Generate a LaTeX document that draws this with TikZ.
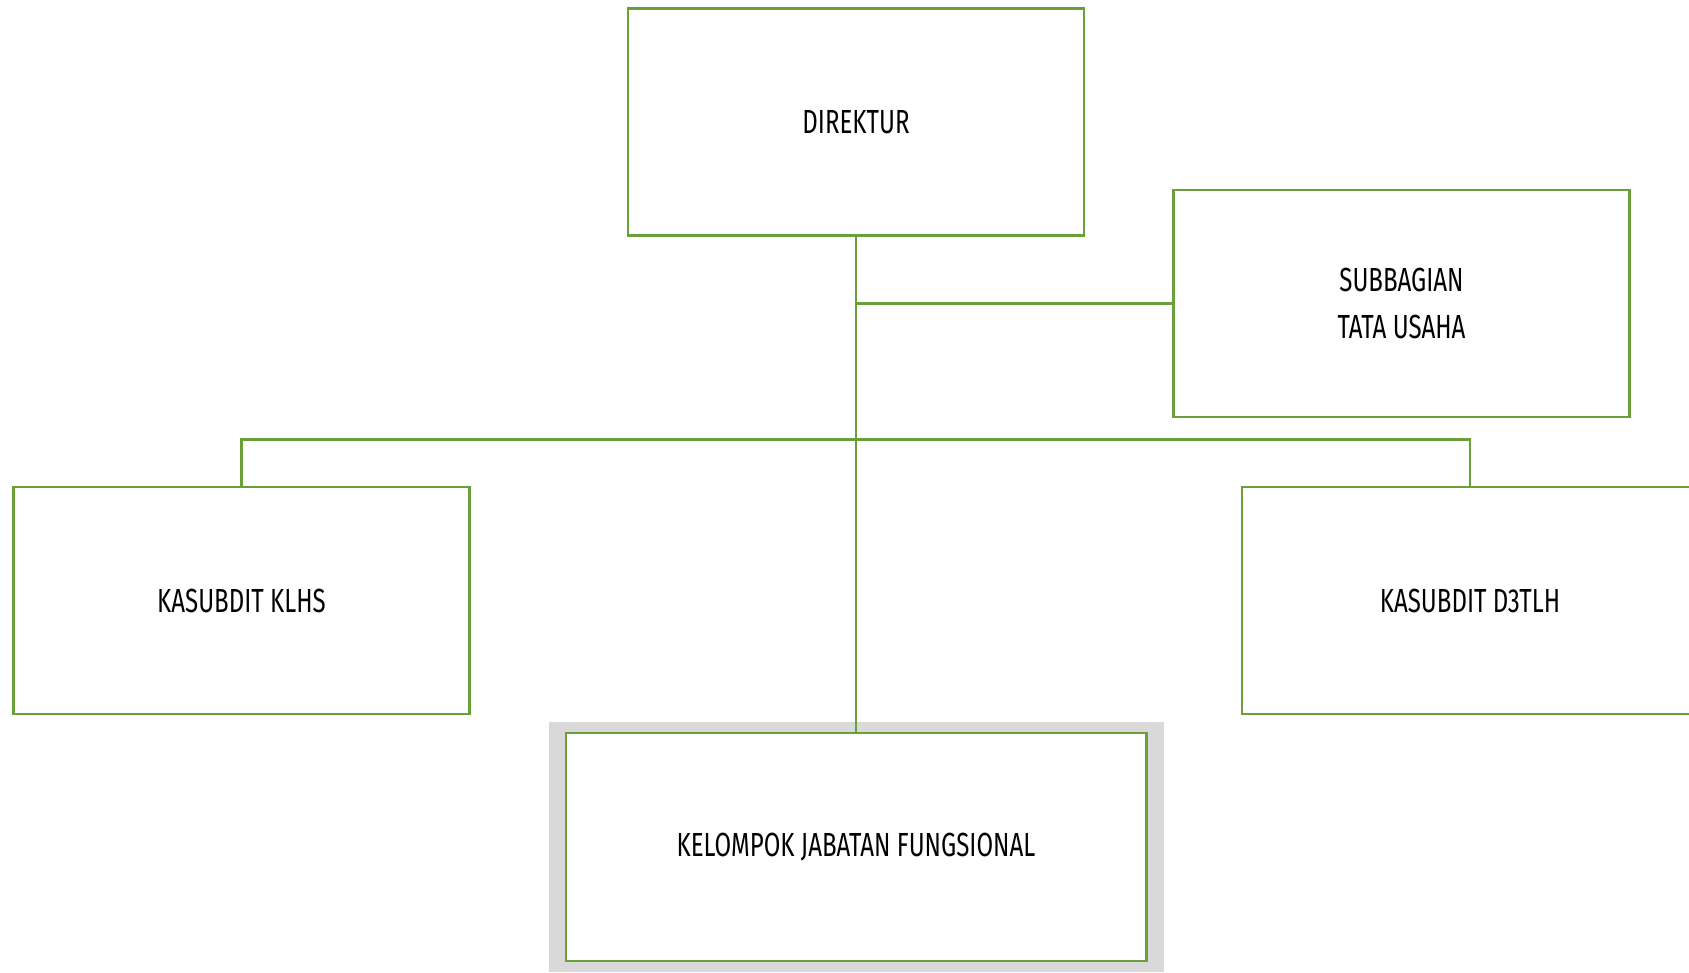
\documentclass[tikz,border=0pt]{standalone}
\usepackage{fontspec}
\setmainfont{Fira Sans}[FakeStretch=0.72]
\definecolor{garis}{RGB}{106,160,58}
\definecolor{bayang}{RGB}{217,217,217}

\begin{document}
\begin{tikzpicture}[x=0.01cm, y=-0.01cm,
    kotak/.style={draw=garis, line width=0.75pt, fill=white, inner sep=0pt,
      minimum width=4.56cm, minimum height=2.27cm, align=center,
      font=\fontsize{9.5}{13.4}\selectfont},
    hubung/.style={draw=garis, line width=0.75pt}]
  \useasboundingbox (0,0) rectangle (1689,972);
  % bayangan abu-abu di belakang kotak fungsional
  \node[fill=bayang, minimum width=6.15cm, minimum height=2.5cm, inner sep=0pt] (kjfbg) at (856.5,847) {};
  % kotak-kotak jabatan
  \node[kotak] (dir) at (856,122) {DIREKTUR};
  \node[kotak] (tu) at (1401.5,303.5) {SUBBAGIAN\\TATA USAHA};
  \node[kotak] (klhs) at (241.5,600.5) {KASUBDIT KLHS};
  \node[kotak] (d3tlh) at (1470,600.5) {KASUBDIT D3TLH};
  \node[kotak, minimum width=5.8cm, minimum height=2.28cm] (kjf) at (856,847) {KELOMPOK JABATAN FUNGSIONAL};
  % garis komando
  \coordinate (bar) at (856,439.5);
  \draw[hubung] (dir.south) -- (kjf.north);
  \draw[hubung] (dir.south |- tu.west) -- (tu.west);
  \draw[hubung] (klhs.north) |- (bar) -| (d3tlh.north);
\end{tikzpicture}
\end{document}
